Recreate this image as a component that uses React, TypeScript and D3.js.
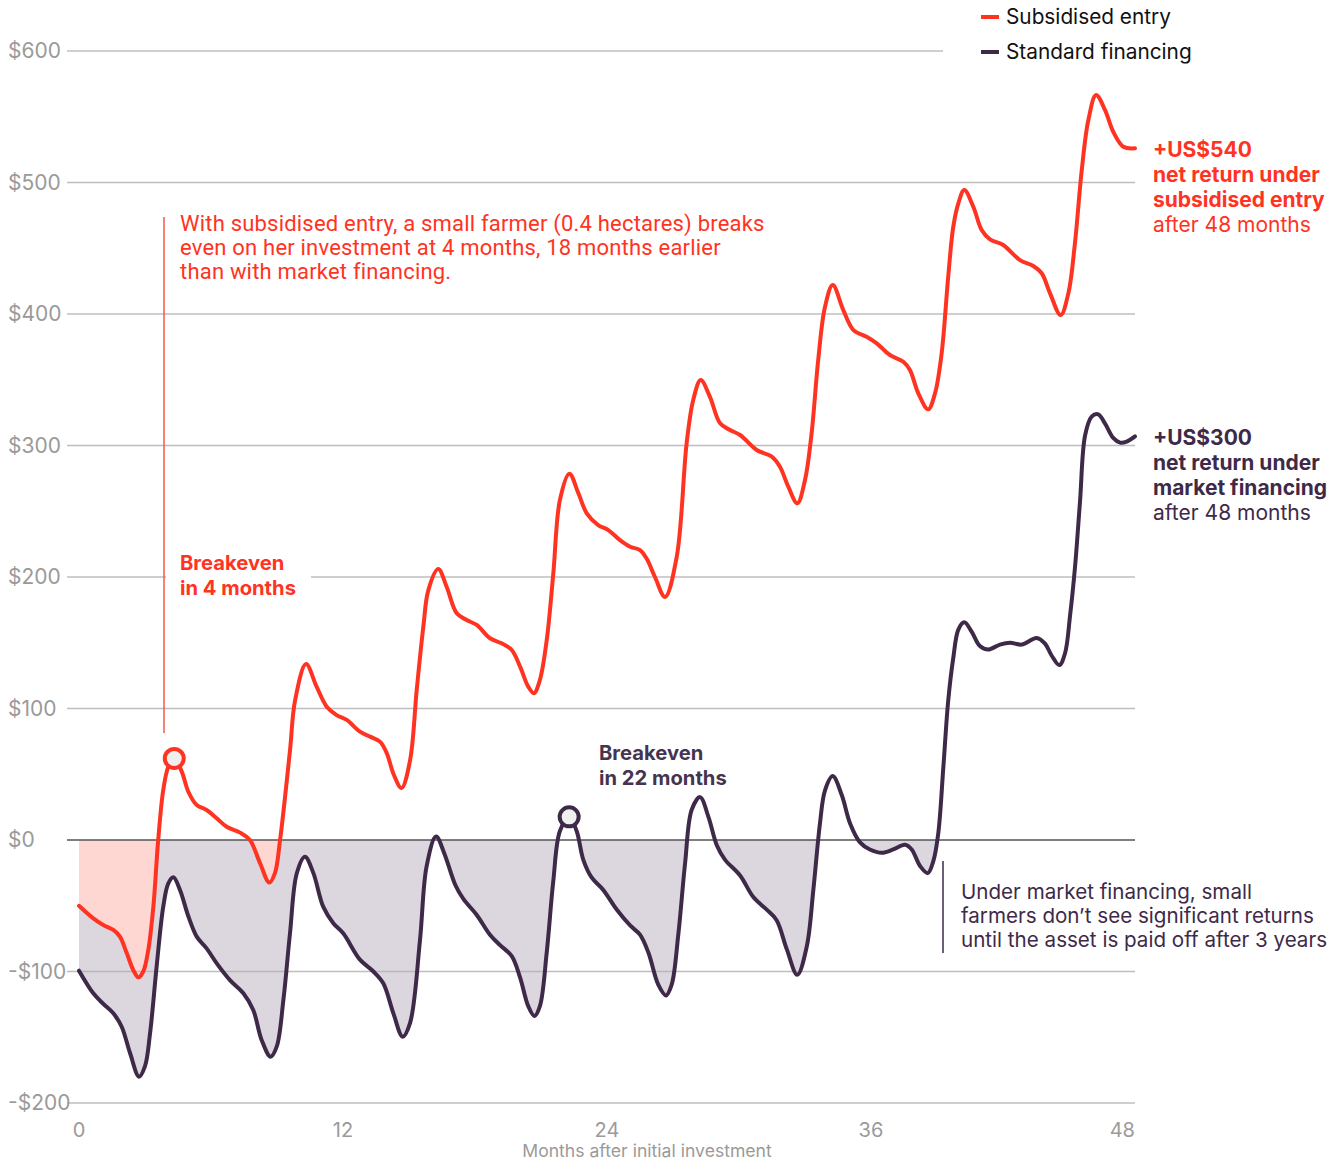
import React from "react";
import * as d3 from "d3";

// Cumulative net return (US$) by month after initial investment
const subsidisedMonths = [0, 0.65, 1.1, 1.56, 1.86, 2.17, 2.47, 2.7, 2.92, 3.15, 3.38, 3.6, 3.83, 4.06, 4.33, 4.67, 4.97, 5.35, 5.8, 6.26, 6.71, 7.32, 7.77, 8.23, 8.65, 8.91, 9.14, 9.59, 9.82, 10.32, 10.8, 11.26, 11.71, 12.17, 12.77, 13.23, 13.68, 13.99, 14.3, 14.66, 15.05, 15.35, 15.65, 15.88, 16.33, 16.71, 17.17, 17.62, 18.08, 18.68, 19.21, 19.67, 20.05, 20.42, 20.68, 20.95, 21.26, 21.56, 21.86, 22.29, 22.7, 23.08, 23.6, 24.06, 24.59, 25.05, 25.5, 25.8, 26.18, 26.64, 27.17, 27.62, 27.92, 28.26, 28.68, 29.14, 29.59, 30.05, 30.8, 31.49, 31.86, 32.24, 32.65, 33.0, 33.3, 33.6, 33.91, 34.26, 34.74, 35.2, 35.8, 36.26, 36.86, 37.47, 37.77, 38.15, 38.6, 38.91, 39.21, 39.51, 39.74, 39.97, 40.24, 40.65, 41.03, 41.41, 42.01, 42.77, 43.38, 43.76, 44.14, 44.62, 44.97, 45.27, 45.58, 45.88, 46.23, 46.64, 47.01, 47.47, 48];
const subsidisedValues = [-50, -59.6, -64.6, -68.4, -73.5, -86, -99, -104.4, -100, -83.6, -50.7, 0, 38, 55.7, 62, 52, 36.7, 26.6, 22.8, 16.5, 10.1, 5.6, 0, -17.7, -32.4, -25, 0, 68, 106, 133.8, 116.6, 101.4, 95, 91.3, 82.4, 78.6, 74.8, 66, 50, 39.5, 60.8, 114, 162, 190, 206, 192.6, 172.4, 167.3, 163.5, 153.4, 149.6, 144.5, 131.8, 116.6, 111.6, 121.7, 152, 202.8, 258.6, 278.6, 263.7, 248.4, 239.5, 235.7, 228, 223, 220.5, 214, 200, 184.8, 215.4, 301.7, 334.6, 349.8, 337, 316.9, 311.8, 308, 296.6, 291.5, 283.9, 268.7, 256, 273.8, 309.3, 365, 405.5, 422, 403, 387.8, 382.7, 377.7, 368.8, 363.7, 357.4, 339.7, 327.5, 339.7, 370, 428.4, 466.4, 484.2, 494.3, 481.6, 463.9, 456.8, 452.5, 441, 436.5, 431, 415.7, 399.2, 415.7, 453.8, 509.5, 547.5, 566.5, 555, 538.6, 527.2, 526];

const standardMonths = [0, 0.65, 1.11, 1.56, 1.94, 2.32, 2.73, 3.0, 3.23, 3.53, 3.83, 4.06, 4.29, 4.59, 4.97, 5.35, 5.8, 6.26, 6.86, 7.47, 7.92, 8.3, 8.71, 8.99, 9.29, 9.59, 9.9, 10.27, 10.65, 11.1, 11.56, 12.01, 12.77, 13.38, 13.83, 14.29, 14.71, 15.05, 15.5, 15.8, 16.23, 16.6, 17.1, 17.47, 18.08, 18.68, 19.14, 19.67, 20.05, 20.42, 20.7, 20.95, 21.26, 21.56, 21.86, 22.28, 22.62, 22.92, 23.3, 23.83, 24.44, 25.05, 25.5, 25.88, 26.33, 26.68, 26.94, 27.24, 27.55, 27.85, 28.23, 28.61, 28.99, 29.36, 30.05, 30.65, 31.26, 31.71, 32.17, 32.65, 33.08, 33.38, 33.68, 33.91, 34.26, 34.67, 35.05, 35.5, 35.95, 36.49, 37.01, 37.55, 37.85, 38.23, 38.58, 38.83, 39.06, 39.29, 39.51, 39.74, 39.97, 40.24, 40.58, 40.95, 41.33, 41.86, 42.32, 42.85, 43.53, 43.91, 44.21, 44.56, 44.82, 45.05, 45.27, 45.5, 45.73, 46.03, 46.33, 46.64, 47.01, 47.32, 47.62, 48];
const standardValues = [-99.4, -116.6, -124.7, -131.8, -142, -162, -180, -172, -147, -96, -50.7, -33, -28.4, -38, -58, -73.5, -82.4, -93.8, -106.5, -116.6, -129.3, -152, -164.8, -157, -121.7, -71, -25.3, -12.7, -25, -50.7, -63.3, -71, -91, -100, -109, -131.8, -149.6, -139, -76, -20, 2.6, -10, -34, -44.8, -57, -72, -80, -88.3, -104.6, -126.3, -133.8, -126.3, -85.6, -31, 6.8, 17.6, 6.8, -14.9, -28.5, -38, -52.9, -65, -72, -85.6, -110, -118.2, -110, -72, -17.6, 23, 32.6, 17.6, -4, -14.9, -27, -43.4, -53, -61, -83, -102.5, -81, -37.8, 12.6, 37.8, 48.6, 34.2, 12.6, -1.8, -7.2, -9.7, -7.2, -3.6, -7.2, -19.8, -25.2, -16.2, 5.4, 55.7, 106, 138.5, 160, 165.5, 158.3, 147.5, 144.9, 148.6, 150, 148.6, 153.6, 149.3, 140.3, 133, 142, 170.9, 206.9, 257.3, 307.6, 322, 323.7, 316.6, 305.8, 302.2, 302.9, 306.9];

// Breakeven markers: [month, value]
const subsidisedBreakeven = [4.33, 62];
const standardBreakeven = [22.28, 17.6];

const yTicks = [600, 500, 400, 300, 200, 100, 0, -100, -200];
const xTicks = [0, 12, 24, 36, 48];

const RED = "#ff3322";
const PURPLE = "#3e2a48";
const PURPLE_TEXT = "#45344f";
const GREY = "#9a9a9a";
const SANS = "Inter, 'Noto Sans', sans-serif";
const COND = "Roboto, 'Noto Sans', sans-serif";

type Pt = { m: number; v: number };
const subsidised: Pt[] = subsidisedMonths.map((m, i) => ({ m, v: subsidisedValues[i] }));
const standard: Pt[] = standardMonths.map((m, i) => ({ m, v: standardValues[i] }));

const fmt = (v: number) => (v < 0 ? `-$${Math.abs(v)}` : `$${v}`);

export default function App() {
  const W = 1344;
  const H = 1162;
  const x = d3.scaleLinear().domain([0, 48]).range([79, 1135]);
  const y = d3.scaleLinear().domain([-200, 600]).range([1103, 51]);
  const curve = d3.curveCatmullRom.alpha(0.5);

  const line = d3
    .line<Pt>()
    .x((d) => x(d.m))
    .y((d) => y(d.v))
    .curve(curve);
  const area = d3
    .area<Pt>()
    .x((d) => x(d.m))
    .y0(y(0))
    .y1((d) => y(d.v))
    .curve(curve);

  const gridLeft = 67;
  const gridRight = 1135;

  return (
    <div style={{ position: "fixed", left: 0, top: 0 }}>
      <svg width={W} height={H} style={{ display: "block", background: "#fff" }}>
        <defs>
          <clipPath id="below-zero">
            <rect x={0} y={y(0)} width={W} height={H - y(0)} />
          </clipPath>
        </defs>

        {/* shaded losses */}
        <g clipPath="url(#below-zero)">
          <path d={area(standard) ?? ""} fill="#dcd7de" />
          <path d={area(subsidised) ?? ""} fill="#fed6d2" />
        </g>

        {/* gridlines */}
        {yTicks.map((t) => (
          <line
            key={t}
            x1={gridLeft}
            x2={t === 600 ? 943 : gridRight}
            y1={y(t)}
            y2={y(t)}
            stroke={t === 0 ? "#555" : "#b3b3b3"}
            strokeOpacity={t === 0 ? 1 : 0.85}
            strokeWidth={1.5}
          />
        ))}
        {yTicks.map((t) => (
          <text key={t} x={8} y={y(t) + 7} fontFamily={SANS} fontSize={21} fill={GREY}>
            {fmt(t)}
          </text>
        ))}
        {xTicks.map((t) => (
          <text
            key={t}
            x={x(t)}
            y={1137}
            textAnchor={t === 48 ? "end" : "middle"}
            fontFamily={SANS}
            fontSize={20}
            fill={GREY}
          >
            {t}
          </text>
        ))}
        <text x={647} y={1157} textAnchor="middle" fontFamily={SANS} fontSize={17.6} fill={GREY}>
          Months after initial investment
        </text>

        {/* annotation: subsidised breakeven */}
        <line x1={164} x2={164} y1={217} y2={733} stroke="#f4584c" strokeWidth={1.5} />
        <g fontFamily={COND} fontSize={22} letterSpacing={0.2} fill={RED}>
          <text x={180} y={231}>With subsidised entry, a small farmer (0.4 hectares) breaks</text>
          <text x={180} y={255}>even on her investment at 4 months, 18 months earlier</text>
          <text x={180} y={279}>than with market financing.</text>
        </g>
        <rect x={166} y={562} width={145} height={30} fill="#fff" />
        <g fontFamily={SANS} fontSize={20.2} fontWeight={700} fill={RED}>
          <text x={180} y={570}>Breakeven</text>
          <text x={180} y={595}>in 4 months</text>
        </g>

        {/* annotation: standard breakeven */}
        <g fontFamily={SANS} fontSize={20.2} fontWeight={700} fill={PURPLE_TEXT}>
          <text x={599} y={760}>Breakeven</text>
          <text x={599} y={785}>in 22 months</text>
        </g>

        {/* annotation: asset paid off */}
        <line x1={943} x2={943} y1={861} y2={953} stroke={PURPLE} strokeWidth={1.5} />
        <g fontFamily={SANS} fontSize={20.6} fill={PURPLE}>
          <text x={961} y={899}>Under market financing, small</text>
          <text x={961} y={923}>farmers don’t see significant returns</text>
          <text x={961} y={947}>until the asset is paid off after 3 years</text>
        </g>

        {/* series lines */}
        <path d={line(standard) ?? ""} fill="none" stroke={PURPLE} strokeWidth={4} strokeLinejoin="round" strokeLinecap="round" />
        <path d={line(subsidised) ?? ""} fill="none" stroke={RED} strokeWidth={4} strokeLinejoin="round" strokeLinecap="round" />

        {/* breakeven markers */}
        <circle cx={x(subsidisedBreakeven[0])} cy={y(subsidisedBreakeven[1])} r={9.5} fill="#efefef" stroke={RED} strokeWidth={4} />
        <circle cx={x(standardBreakeven[0])} cy={y(standardBreakeven[1])} r={9.5} fill="#efefef" stroke={PURPLE} strokeWidth={4} />

        {/* end labels */}
        <g fontFamily={SANS} fontSize={21} fill={RED}>
          <text x={1153} y={157} fontWeight={700}>+US$540</text>
          <text x={1153} y={182} fontWeight={700}>net return under</text>
          <text x={1153} y={207} fontWeight={700}>subsidised entry</text>
          <text x={1153} y={232}>after 48 months</text>
        </g>
        <g fontFamily={SANS} fontSize={21} fill={PURPLE}>
          <text x={1153} y={445} fontWeight={700}>+US$300</text>
          <text x={1153} y={470} fontWeight={700}>net return under</text>
          <text x={1153} y={495} fontWeight={700}>market financing</text>
          <text x={1153} y={520}>after 48 months</text>
        </g>

        {/* legend */}
        <line x1={981} x2={999} y1={17} y2={17} stroke={RED} strokeWidth={4} />
        <text x={1006} y={24} fontFamily={SANS} fontSize={20.8} fill="#111">Subsidised entry</text>
        <line x1={981} x2={999} y1={52} y2={52} stroke={PURPLE} strokeWidth={4} />
        <text x={1006} y={59} fontFamily={SANS} fontSize={20.8} fill="#111">Standard financing</text>
      </svg>
    </div>
  );
}
